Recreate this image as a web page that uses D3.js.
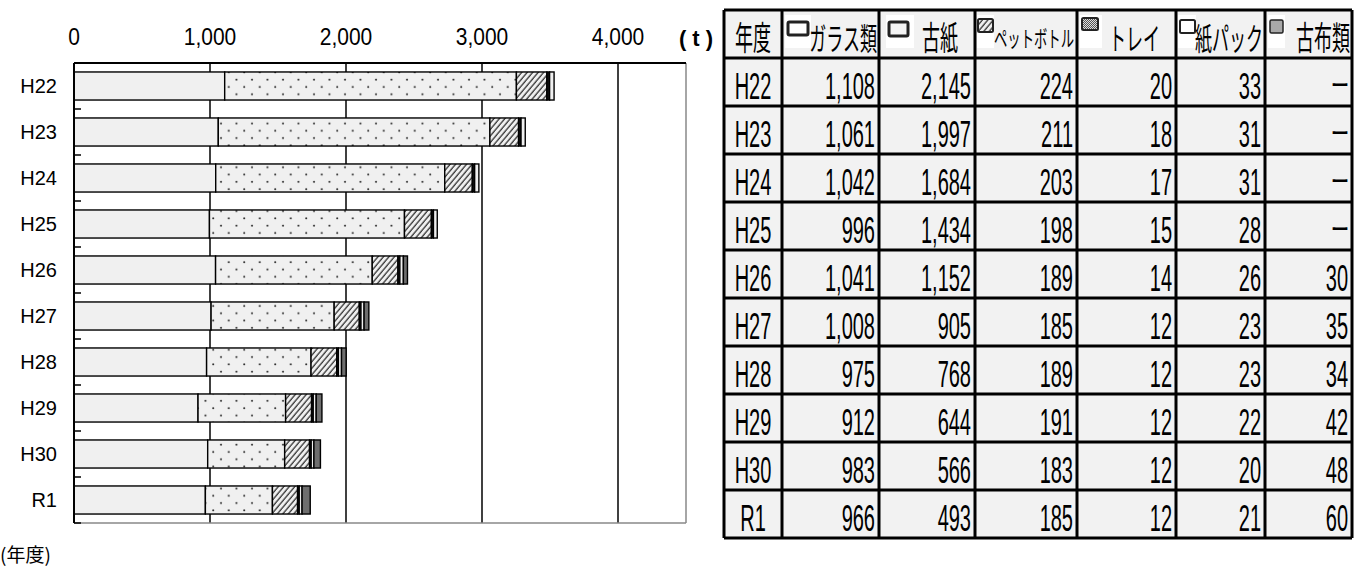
<!DOCTYPE html>
<html lang="ja">
<head>
<meta charset="UTF-8">
<title>資源物回収量</title>
<script src="https://cdnjs.cloudflare.com/ajax/libs/d3/7.8.5/d3.min.js"></script>
<style>
  body { margin: 0; background: #fff; }
  svg { display: block; }
  .narrow { font-family: "Liberation Sans Narrow", "Liberation Sans", sans-serif; }
  .jp { font-family: "Noto Sans CJK JP", sans-serif; }
</style>
</head>
<body>
<div id="chart"></div>
<script>
// data
var years = ["H22", "H23", "H24", "H25", "H26", "H27", "H28", "H29", "H30", "R1"];
var glass = [1108, 1061, 1042, 996, 1041, 1008, 975, 912, 983, 966];
var paper = [2145, 1997, 1684, 1434, 1152, 905, 768, 644, 566, 493];
var pet = [224, 211, 203, 198, 189, 185, 189, 191, 183, 185];
var tray = [20, 18, 17, 15, 14, 12, 12, 12, 12, 12];
var pack = [33, 31, 31, 28, 26, 23, 23, 22, 20, 21];
var cloth = [null, null, null, null, 30, 35, 34, 42, 48, 60];
var xTicks = [0, 1000, 2000, 3000, 4000];
var headers = ["ガラス類", "古紙", "ペットボトル", "トレイ", "紙パック", "古布類"];

var keys = ["glass", "paper", "pet", "tray", "pack", "cloth"];
var rows = years.map(function(y, i) {
    return { year: y, glass: glass[i], paper: paper[i], pet: pet[i],
             tray: tray[i], pack: pack[i], cloth: cloth[i] || 0 };
});

var W = 1363, H = 568;
var svg = d3.select("#chart").append("svg")
    .attr("width", W).attr("height", H);

svg.append("rect").attr("width", W).attr("height", H).attr("fill", "#fff");

// patterns
var defs = svg.append("defs");
var dots = defs.append("pattern").attr("id", "dots")
    .attr("patternUnits", "userSpaceOnUse")
    .attr("width", 15.5).attr("height", 14.6)
    .attr("x", 0).attr("y", 3);
dots.append("rect").attr("width", 15.5).attr("height", 14.6).attr("fill", "#f0f0f0");
dots.append("circle").attr("cx", 4).attr("cy", 3.6).attr("r", 1).attr("fill", "#222");
dots.append("circle").attr("cx", 11.75).attr("cy", 10.9).attr("r", 1).attr("fill", "#222");

var hatch = defs.append("pattern").attr("id", "hatch")
    .attr("patternUnits", "userSpaceOnUse")
    .attr("width", 4.2).attr("height", 8)
    .attr("patternTransform", "rotate(40)");
hatch.append("rect").attr("width", 4.2).attr("height", 8).attr("fill", "#f0f0f0");
hatch.append("line").attr("x1", 1).attr("x2", 1).attr("y1", 0).attr("y2", 8)
    .attr("stroke", "#333").attr("stroke-width", 1.3);

var checker = defs.append("pattern").attr("id", "checker")
    .attr("patternUnits", "userSpaceOnUse").attr("width", 2).attr("height", 2);
checker.append("rect").attr("width", 2).attr("height", 2).attr("fill", "#555");
checker.append("rect").attr("width", 1).attr("height", 1).attr("fill", "#ddd");
checker.append("rect").attr("x", 1).attr("y", 1).attr("width", 1).attr("height", 1).attr("fill", "#ddd");

var fills = {
    glass: "#f0f0f0", paper: "url(#dots)", pet: "url(#hatch)",
    tray: "#111", pack: "#f0f0f0", cloth: "#6e6e6e"
};

// ---------- chart ----------
var plot = { left: 74, right: 686, top: 63, bottom: 523 };

var x = d3.scaleLinear().domain([0, 4500]).range([plot.left, plot.right]);
var y = d3.scaleBand().domain(years).range([plot.top, plot.bottom]).paddingInner(0.39).paddingOuter(0.195);

// grid lines
svg.append("g").selectAll("line")
    .data(xTicks.slice(1))
    .enter().append("line")
    .attr("x1", function(d) { return x(d); })
    .attr("x2", function(d) { return x(d); })
    .attr("y1", plot.top).attr("y2", plot.bottom)
    .attr("stroke", "#000").attr("stroke-width", 1.5);

// right / bottom frame (grey)
svg.append("line").attr("x1", plot.right).attr("x2", plot.right)
    .attr("y1", plot.top).attr("y2", plot.bottom)
    .attr("stroke", "#888").attr("stroke-width", 1.5);
svg.append("line").attr("x1", plot.left).attr("x2", plot.right)
    .attr("y1", plot.bottom).attr("y2", plot.bottom)
    .attr("stroke", "#888").attr("stroke-width", 1.5);

// stacked bars
var stack = d3.stack().keys(keys)(rows);
svg.append("g").selectAll("g")
    .data(stack)
    .enter().append("g")
    .attr("fill", function(d) { return fills[d.key]; })
    .selectAll("rect")
    .data(function(d) { return d.filter(function(s) { return s[1] - s[0] > 0; }); })
    .enter().append("rect")
    .attr("x", function(d) { return x(d[0]); })
    .attr("y", function(d) { return y(d.data.year); })
    .attr("width", function(d) { return x(d[1]) - x(d[0]); })
    .attr("height", y.bandwidth())
    .attr("stroke", "#000").attr("stroke-width", 1.4);

// top frame + left axis
svg.append("line").attr("x1", plot.left).attr("x2", plot.right)
    .attr("y1", plot.top).attr("y2", plot.top)
    .attr("stroke", "#000").attr("stroke-width", 2);
svg.append("line").attr("x1", plot.left).attr("x2", plot.left)
    .attr("y1", plot.top).attr("y2", plot.bottom)
    .attr("stroke", "#000").attr("stroke-width", 2);

// band boundary ticks
var step = y.step();
svg.append("g").selectAll("line")
    .data(years)
    .enter().append("line")
    .attr("x1", plot.left).attr("x2", plot.left + 7)
    .attr("y1", function(d) { return y(d) - y.paddingOuter() * step + step; })
    .attr("y2", function(d) { return y(d) - y.paddingOuter() * step + step; })
    .attr("stroke", "#000").attr("stroke-width", 1.5);

// x labels
svg.append("g").selectAll("text")
    .data(xTicks)
    .enter().append("text")
    .attr("class", "narrow")
    .attr("text-anchor", "middle")
    .attr("transform", function(d) { return "translate(" + x(d) + ",45) scale(1,1.1)"; })
    .style("font-size", "21px")
    .text(function(d) { return d3.format(",")(d); });

svg.append("text")
    .attr("x", 696).attr("y", 46)
    .attr("text-anchor", "middle")
    .style("font-family", "Liberation Sans, sans-serif")
    .style("font-weight", "bold")
    .style("font-size", "22px")
    .text("( t )");

// y labels
svg.append("g").selectAll("text")
    .data(years)
    .enter().append("text")
    .attr("class", "narrow")
    .attr("text-anchor", "end")
    .attr("x", 57)
    .attr("y", function(d) { return y(d) + y.bandwidth() / 2 + 7; })
    .style("font-size", "20px")
    .text(function(d) { return d; });

svg.append("text")
    .attr("class", "jp")
    .attr("x", 0).attr("y", 562)
    .style("font-size", "19px")
    .text("(年度)");

// ---------- table ----------
var colX = [724, 782, 879, 975, 1077, 1176, 1265, 1352];
var tTop = 10, headH = 48, rowH = 48;
var tBottom = tTop + headH + rowH * years.length;
var series = [glass, paper, pet, tray, pack, cloth];

var tbl = svg.append("g");
tbl.append("rect")
    .attr("x", colX[0]).attr("y", tTop)
    .attr("width", colX[colX.length - 1] - colX[0]).attr("height", tBottom - tTop)
    .attr("fill", "#f2f2f2");

// header
tbl.append("text")
    .attr("class", "jp")
    .attr("text-anchor", "middle")
    .attr("transform", "translate(" + (colX[0] + colX[1]) / 2 + "," + (tTop + 40) + ") scale(1,1.85)")
    .style("font-size", "18px")
    .text("年度");

var icons = [
    { x: 785, w: 26, sq: [788, 22, 20, 13], fill: "#fff", sw: 3 },
    { x: 886, w: 28, sq: [889, 22, 19, 14], fill: "#f4f4f4", sw: 3 },
    { x: 977, w: 17, sq: [978, 19, 15, 13], fill: "url(#hatch)", sw: 2 },
    { x: 1080, w: 22, sq: [1082, 18, 16, 12], fill: "url(#checker)", sw: 2 },
    { x: 1178, w: 18, sq: [1180, 20, 15, 13], fill: "#fff", sw: 2 },
    { x: 1268, w: 17, sq: [1270, 20, 13, 13], fill: "#a8a8a8", sw: 1.5 }
];
var hdrText = [
    { x: 877, size: 17, sy: 1.8, dy: 40 },
    { x: 958, size: 18, sy: 1.8, dy: 40 },
    { x: 1074, size: 14, sy: 1.6, dy: 37 },
    { x: 1160, size: 17, sy: 1.8, dy: 40 },
    { x: 1263, size: 17, sy: 1.8, dy: 40 },
    { x: 1350, size: 18, sy: 1.8, dy: 40 }
];
headers.forEach(function(h, i) {
    var ic = icons[i];
    tbl.append("rect").attr("x", ic.x).attr("y", tTop + 5).attr("width", ic.w).attr("height", 33).attr("fill", "#fff");
    tbl.append("rect")
        .attr("x", ic.sq[0]).attr("y", ic.sq[1]).attr("width", ic.sq[2]).attr("height", ic.sq[3])
        .attr("fill", ic.fill).attr("stroke", "#222").attr("stroke-width", ic.sw)
        .attr("rx", 1.5);
    var t = hdrText[i];
    tbl.append("text")
        .attr("class", "jp")
        .attr("text-anchor", "end")
        .attr("textLength", i === 2 ? 80 : null)
        .attr("lengthAdjust", "spacingAndGlyphs")
        .attr("transform", "translate(" + t.x + "," + (tTop + t.dy) + ") scale(1," + t.sy + ")")
        .style("font-size", t.size + "px")
        .text(h);
});

// body
years.forEach(function(yr, r) {
    var base = tTop + headH + r * rowH + 41;
    tbl.append("text")
        .attr("class", "narrow")
        .attr("text-anchor", "middle")
        .attr("transform", "translate(" + (colX[0] + colX[1]) / 2 + "," + base + ") scale(1,1.85)")
        .style("font-size", "20px")
        .text(yr);
    series.forEach(function(s, c) {
        var v = s[r];
        if (v == null) {
            tbl.append("text")
                .attr("class", "jp")
                .attr("text-anchor", "end")
                .attr("x", colX[c + 2] - 3).attr("y", base - 7)
                .style("font-size", "18px")
                .style("font-weight", "bold")
                .text("ー");
            return;
        }
        tbl.append("text")
            .attr("class", "narrow")
            .attr("text-anchor", "end")
            .attr("transform", "translate(" + (colX[c + 2] - 4) + "," + base + ") scale(1,1.85)")
            .style("font-size", "20px")
            .text(d3.format(",")(v));
    });
});

// grid of the table
var hLines = [tTop, tTop + headH];
years.forEach(function(d, i) { hLines.push(tTop + headH + (i + 1) * rowH); });
tbl.selectAll("line.h")
    .data(hLines)
    .enter().append("line")
    .attr("x1", colX[0]).attr("x2", colX[colX.length - 1])
    .attr("y1", function(d) { return d; }).attr("y2", function(d) { return d; })
    .attr("stroke", "#000").attr("stroke-width", 3);
tbl.selectAll("line.v")
    .data(colX)
    .enter().append("line")
    .attr("x1", function(d) { return d; }).attr("x2", function(d) { return d; })
    .attr("y1", tTop).attr("y2", tBottom)
    .attr("stroke", "#000").attr("stroke-width", 3);
</script>
</body>
</html>
